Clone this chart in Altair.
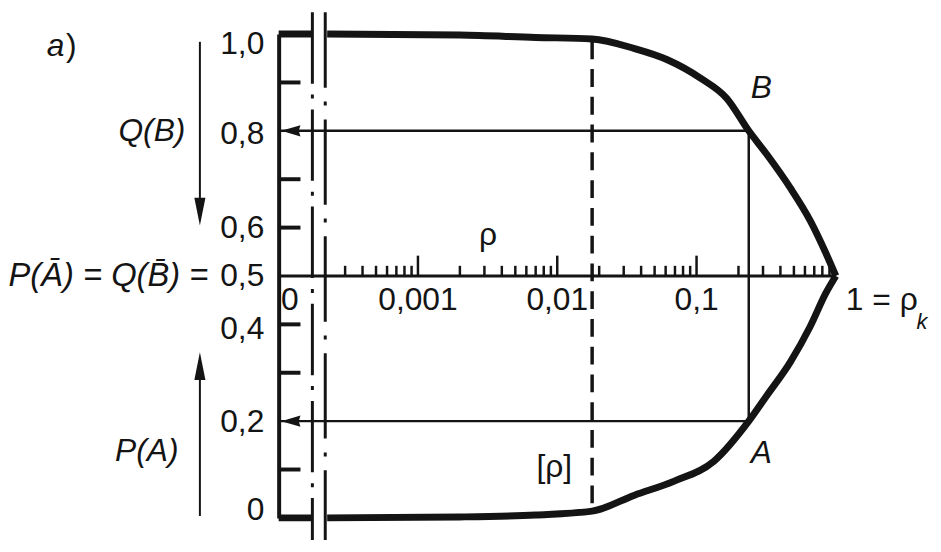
import altair as alt
import pandas as pd

INK = "#141414"
FONT = "Liberation Sans"

# ---- curves (rho on log axis, probability on linear axis) ----
UP_STUB_RHO = [1e-4, 1.72e-4]
UP_STUB_P = [1.0, 1.0]
UP_RHO = [2.23e-4, 0.002, 0.007, 0.0178, 0.0359, 0.0617, 0.108, 0.165, 0.237, 0.318, 0.471, 0.653, 0.849, 1.0]
UP_P = [1.0, 0.998, 0.993, 0.99, 0.970, 0.947, 0.908, 0.867, 0.80, 0.752, 0.682, 0.615, 0.547, 0.5]
LO_STUB_RHO = [1e-4, 1.72e-4]
LO_STUB_P = [0.0, 0.0]
LO_RHO = [2.23e-4, 0.002, 0.007, 0.0178, 0.0359, 0.0692, 0.133, 0.237, 0.318, 0.471, 0.653, 0.849, 1.0]
LO_P = [0.0, 0.002, 0.006, 0.014, 0.047, 0.076, 0.117, 0.2, 0.252, 0.322, 0.395, 0.465, 0.5]

# ---- key points ----
RHO_AB = 0.237          # rho of points A and B
P_B = 0.8
P_A = 0.2
RHO_CRIT = 0.0178       # [rho]
P_CRIT_TOP = 0.99
P_CRIT_BOT = 0.014
RHO_ORIGIN = 1e-4       # drawn as "0"

# ---- axis ticks and labels ----
Y_LABEL_VALUES = [0.0, 0.2, 0.4, 0.5, 0.6, 0.8, 1.0]
Y_LABELS = ["0", "0,2", "0,4", "0,5", "0,6", "0,8", "1,0"]
Y_INNER_TICKS = [0.1, 0.3, 0.4, 0.6, 0.7, 0.9]
X_MAJOR = [0.001, 0.01, 0.1]
X_MAJOR_LABELS = ["0,001", "0,01", "0,1"]
X_MINOR = [3e-4, 4e-4, 5e-4, 6e-4, 7e-4, 8e-4, 9e-4,
           2e-3, 3e-3, 4e-3, 5e-3, 6e-3, 7e-3, 8e-3, 9e-3,
           2e-2, 3e-2, 4e-2, 5e-2, 6e-2, 7e-2, 8e-2, 9e-2,
           0.2, 0.3, 0.4, 0.5, 0.6, 0.7, 0.8, 0.9]
BREAK_RHO = [1.746e-4, 2.16e-4]
BREAK_P = [1.045, -0.07]

# ---- annotations ----
IT_TEXT = ["a", "Q(B)", "P(A)", "B", "A", "k"]
IT_RHO = [2.5e-6, 1.23e-5, 1.13e-5, 0.292, 0.292, 4.16]
IT_P = [0.976, 0.799, 0.139, 0.889, 0.133, 0.404]
IT_SIZE = [32, 32, 32, 32, 32, 22]
FORMULA = ["P(A\u0304) = Q(B\u0304) ="]
FORMULA_RHO = [3.13e-5]
FORMULA_P = [0.5]
UP_TEXT = [")", "ρ", "[ρ]"]
UP_TXT_RHO = [3.25e-6, 0.00318, 0.00953]
UP_TXT_P = [0.976, 0.584, 0.105]
LEFT_TEXT = ["0", "1 = ρ"]
LEFT_RHO = [1.04e-4, 1.18]
LEFT_P = [0.451, 0.451]
ARROW_RHO = 2.72e-5
DOWN_ARROW_P = [0.984, 0.633]
UP_ARROW_P = [0.004, 0.3135]

xs = alt.Scale(type="log", domain=[1e-4, 1], nice=False)
ys = alt.Scale(domain=[0, 1], nice=False, zero=False)

label_expr = " : ".join(f"datum.value == {v} ? '{l}'" for v, l in zip(Y_LABEL_VALUES, Y_LABELS)) + " : ''"
y_axis = alt.Axis(
    values=Y_LABEL_VALUES, labelExpr=label_expr, title=None, grid=False,
    ticks=False, tickSize=0, domain=True, domainWidth=4, domainColor=INK,
    labelFont=FONT, labelFontSize=32, labelColor=INK, labelPadding=15,
    labelBaseline="middle",
    labelOffset={"condition": [
        {"test": "datum.value == 1", "value": 10},
        {"test": "datum.value == 0.8", "value": 3},
        {"test": "datum.value == 0.4", "value": 4},
        {"test": "datum.value == 0", "value": -8}], "value": 0},
)


def X(f):
    return alt.X(f, type="quantitative", scale=xs, axis=None)


def Y(f):
    return alt.Y(f, type="quantitative", scale=ys, axis=y_axis)


curves = pd.DataFrame({
    "rho": UP_STUB_RHO + UP_RHO + LO_STUB_RHO + LO_RHO,
    "p": UP_STUB_P + UP_P + LO_STUB_P + LO_P,
    "seg": ["u0"] * len(UP_STUB_RHO) + ["u1"] * len(UP_RHO) + ["l0"] * len(LO_STUB_RHO) + ["l1"] * len(LO_RHO),
})

base_y = alt.Chart(pd.DataFrame({"p": Y_INNER_TICKS})).mark_rule(
    color=INK, strokeWidth=4, strokeCap="butt"
).encode(y=Y("p"), x=alt.value(0), x2=alt.value(22))

xaxis_line = alt.Chart(pd.DataFrame({"rho": [RHO_ORIGIN], "rho2": [1.0], "p": [0.5]})).mark_rule(
    color=INK, strokeWidth=3).encode(x=X("rho"), x2="rho2", y=Y("p"))

minor = alt.Chart(pd.DataFrame({"rho": X_MINOR, "p": [0.5] * len(X_MINOR), "p2": [0.521] * len(X_MINOR)})).mark_rule(
    color=INK, strokeWidth=2.5, strokeCap="butt").encode(x=X("rho"), y=Y("p"), y2="p2")
major = alt.Chart(pd.DataFrame({"rho": X_MAJOR, "p": [0.5] * 3, "p2": [0.542] * 3})).mark_rule(
    color=INK, strokeWidth=2.5, strokeCap="butt").encode(x=X("rho"), y=Y("p"), y2="p2")

curve = alt.Chart(curves).mark_line(color=INK, strokeWidth=7, interpolate="monotone", strokeCap="butt").encode(
    x=X("rho"), y=Y("p"), detail="seg:N")

hlines = alt.Chart(pd.DataFrame({"rho": [RHO_ORIGIN] * 2, "rho2": [RHO_AB] * 2, "p": [P_B, P_A]})).mark_rule(
    color=INK, strokeWidth=2.5).encode(x=X("rho"), x2="rho2", y=Y("p"))
vline = alt.Chart(pd.DataFrame({"rho": [RHO_AB], "p": [P_A], "p2": [P_B]})).mark_rule(
    color=INK, strokeWidth=2.5).encode(x=X("rho"), y=Y("p"), y2="p2")
heads = alt.Chart(pd.DataFrame({"rho": [RHO_ORIGIN] * 2, "p": [P_B, P_A]})).mark_point(
    shape="M0.12,0L1,-0.26L0.92,0L1,0.26Z", size=1936, filled=True, color=INK, opacity=1, strokeWidth=0
).encode(x=X("rho"), y=Y("p"))

dashed = alt.Chart(pd.DataFrame({"rho": [RHO_CRIT], "p": [P_CRIT_BOT + 0.01], "p2": [P_CRIT_TOP - 0.005]})).mark_rule(
    color=INK, strokeWidth=3.5, strokeDash=[18, 10], strokeCap="butt").encode(x=X("rho"), y=Y("p2"), y2="p")

brk1 = alt.Chart(pd.DataFrame({"rho": [BREAK_RHO[0]], "p": [BREAK_P[0]], "p2": [BREAK_P[1]]})).mark_rule(
    color=INK, strokeWidth=3, strokeDash=[72, 11, 4, 11], strokeDashOffset=0, strokeCap="butt").encode(
    x=X("rho"), y=Y("p"), y2="p2")
brk2 = alt.Chart(pd.DataFrame({"rho": [BREAK_RHO[1]], "p": [BREAK_P[0]], "p2": [BREAK_P[1]]})).mark_rule(
    color=INK, strokeWidth=3, strokeDash=[86, 14, 4, 14], strokeDashOffset=10, strokeCap="butt").encode(
    x=X("rho"), y=Y("p"), y2="p2")

vert = alt.Chart(pd.DataFrame({"rho": [ARROW_RHO] * 2, "p": [DOWN_ARROW_P[0], UP_ARROW_P[0]],
                               "p2": [DOWN_ARROW_P[1], UP_ARROW_P[1]]})).mark_rule(
    color=INK, strokeWidth=2).encode(x=X("rho"), y=Y("p"), y2="p2")
down_head = alt.Chart(pd.DataFrame({"rho": [ARROW_RHO], "p": [DOWN_ARROW_P[1]]})).mark_point(
    shape="M0,1L-0.4,-1L0.4,-1Z", size=784, filled=True, color=INK, opacity=1, strokeWidth=0
).encode(x=X("rho"), y=Y("p"))
up_head = alt.Chart(pd.DataFrame({"rho": [ARROW_RHO], "p": [UP_ARROW_P[1]]})).mark_point(
    shape="M0,-1L-0.4,1L0.4,1Z", size=784, filled=True, color=INK, opacity=1, strokeWidth=0
).encode(x=X("rho"), y=Y("p"))

t_it = alt.Chart(pd.DataFrame({"rho": IT_RHO, "p": IT_P, "t": IT_TEXT, "fs": IT_SIZE})).mark_text(
    font=FONT, fontStyle="italic", align="center", baseline="middle", color=INK).encode(
    x=X("rho"), y=Y("p"), text="t:N", size=alt.Size("fs:Q", scale=None))
t_formula = alt.Chart(pd.DataFrame({"rho": FORMULA_RHO, "p": FORMULA_P, "t": FORMULA})).mark_text(
    font=FONT, fontStyle="italic", align="right", baseline="middle", color=INK, fontSize=33).encode(
    x=X("rho"), y=Y("p"), text="t:N")
t_up = alt.Chart(pd.DataFrame({"rho": UP_TXT_RHO + X_MAJOR, "p": UP_TXT_P + [0.451] * 3,
                               "t": UP_TEXT + X_MAJOR_LABELS})).mark_text(
    font=FONT, align="center", baseline="middle", color=INK, fontSize=32).encode(
    x=X("rho"), y=Y("p"), text="t:N")
t_left = alt.Chart(pd.DataFrame({"rho": LEFT_RHO, "p": LEFT_P, "t": LEFT_TEXT})).mark_text(
    font=FONT, align="left", baseline="middle", color=INK, fontSize=32).encode(
    x=X("rho"), y=Y("p"), text="t:N")

chart = alt.layer(
    base_y, xaxis_line, minor, major, hlines, vline, dashed, curve, heads,
    brk1, brk2, vert, down_head, up_head, t_it, t_formula, t_up, t_left
).properties(
    width=562, height=488,
    autosize=alt.AutoSizeParams(type="none"),
    padding={"left": 273, "top": 24, "right": 98, "bottom": 20},
    background="white",
).configure_view(stroke=None)

chart.save("out.html", embed_options={"renderer": "svg", "actions": False})
